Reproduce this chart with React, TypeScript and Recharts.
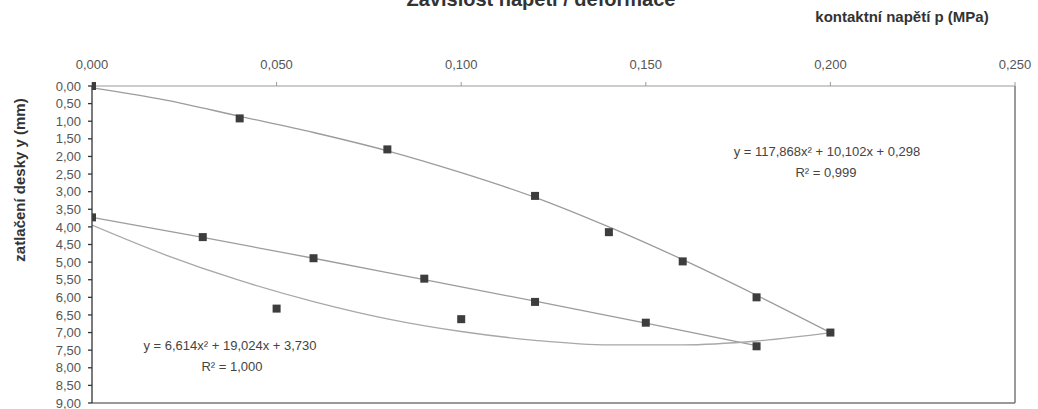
import React from "react";
import {
  ComposedChart,
  Line,
  Scatter,
  XAxis,
  YAxis,
  ReferenceLine,
} from "recharts";

const loadingPoints = [
  { x: 0, y: 0 },
  { x: 0.04, y: 0.92 },
  { x: 0.08, y: 1.8 },
  { x: 0.12, y: 3.12 },
  { x: 0.14, y: 4.15 },
  { x: 0.16, y: 4.98 },
  { x: 0.18, y: 6.0 },
  { x: 0.2, y: 7.0 },
];

const secondPoints = [
  { x: 0, y: 3.73 },
  { x: 0.03, y: 4.29 },
  { x: 0.06, y: 4.89 },
  { x: 0.09, y: 5.47 },
  { x: 0.12, y: 6.13 },
  { x: 0.15, y: 6.72 },
  { x: 0.18, y: 7.39 },
];

const thirdPoints = [
  { x: 0.05, y: 6.32 },
  { x: 0.1, y: 6.62 },
];

// trend curves
const loadingTrend = [
  { x: 0, y: 0.05 },
  { x: 0.02, y: 0.4 },
  { x: 0.04, y: 0.86 },
  { x: 0.06, y: 1.32 },
  { x: 0.08, y: 1.84 },
  { x: 0.1, y: 2.46 },
  { x: 0.12, y: 3.16 },
  { x: 0.14, y: 4.0 },
  { x: 0.16, y: 4.93 },
  { x: 0.18, y: 5.94 },
  { x: 0.2, y: 7.0 },
];

const secondTrend = [
  { x: 0, y: 3.73 },
  { x: 0.03, y: 4.3 },
  { x: 0.06, y: 4.89 },
  { x: 0.09, y: 5.5 },
  { x: 0.12, y: 6.11 },
  { x: 0.15, y: 6.73 },
  { x: 0.18, y: 7.37 },
];

const thirdTrend = [
  { x: 0, y: 3.95 },
  { x: 0.02, y: 4.8 },
  { x: 0.04, y: 5.52 },
  { x: 0.06, y: 6.12 },
  { x: 0.08, y: 6.61 },
  { x: 0.1, y: 6.97 },
  { x: 0.12, y: 7.22 },
  { x: 0.14, y: 7.35 },
  { x: 0.16, y: 7.35 },
  { x: 0.18, y: 7.24 },
  { x: 0.2, y: 7.0 },
];

const xTicks = [0, 0.05, 0.1, 0.15, 0.2, 0.25];
const yTicks = [
  0, 0.5, 1, 1.5, 2, 2.5, 3, 3.5, 4, 4.5, 5, 5.5, 6, 6.5, 7, 7.5, 8, 8.5, 9,
];

const TITLE = "Závislost napětí / deformace";
const X_TITLE = "kontaktní napětí p (MPa)";
const Y_TITLE = "zatlačení desky y (mm)";
const EQ_LOAD = "y = 117,868x² + 10,102x + 0,298";
const R_LOAD = "R² = 0,999";
const EQ_SECOND = "y = 6,614x² + 19,024x + 3,730";
const R_SECOND = "R² = 1,000";

const FONT = "'Liberation Sans', Arial, sans-serif";
const W = 1038;
const H = 409;

const Square = (props: any) => {
  const { cx, cy } = props;
  if (cx == null || cy == null) return null;
  return <rect x={cx - 4} y={cy - 4} width={8} height={8} fill="#3d3d3d" />;
};

const comma = (v: number, d: number) => v.toFixed(d).replace(".", ",");

export default function App() {
  const tickStyle = { fill: "#555", fontSize: 13, fontFamily: FONT };
  return (
    <div
      style={{
        position: "absolute",
        left: 0,
        top: 0,
        width: W,
        height: H,
        overflow: "hidden",
        background: "#fff",
      }}
    >
      <ComposedChart
        width={W}
        height={H}
        margin={{ top: 56, right: 23, left: 32, bottom: 6 }}
      >
        <XAxis
          type="number"
          dataKey="x"
          orientation="top"
          domain={[0, 0.25]}
          ticks={xTicks}
          height={30}
          tickFormatter={(v) => comma(Number(v), 3)}
          tick={tickStyle}
          tickSize={4}
          tickMargin={13}
          stroke="#9a9a9a"
          allowDataOverflow
        />
        <YAxis
          type="number"
          dataKey="y"
          reversed
          domain={[0, 9]}
          ticks={yTicks}
          interval={0}
          width={60}
          tickFormatter={(v) => comma(Number(v), 2)}
          tick={tickStyle}
          tickSize={4}
          tickMargin={7}
          stroke="#333"
          strokeWidth={1.3}
        />
        <ReferenceLine x={0.25} stroke="#9a9a9a" strokeWidth={2} />
        <ReferenceLine y={9} stroke="#777" strokeWidth={1.3} />
        <Line
          data={loadingTrend}
          dataKey="y"
          type="monotone"
          stroke="#9c9c9c"
          strokeWidth={1.3}
          dot={false}
          activeDot={false}
          isAnimationActive={false}
        />
        <Line
          data={secondTrend}
          dataKey="y"
          type="monotone"
          stroke="#9c9c9c"
          strokeWidth={1.3}
          dot={false}
          activeDot={false}
          isAnimationActive={false}
        />
        <Line
          data={thirdTrend}
          dataKey="y"
          type="monotone"
          stroke="#a8a8a8"
          strokeWidth={1.3}
          dot={false}
          activeDot={false}
          isAnimationActive={false}
        />
        <Scatter data={loadingPoints} shape={<Square />} isAnimationActive={false} />
        <Scatter data={secondPoints} shape={<Square />} isAnimationActive={false} />
        <Scatter data={thirdPoints} shape={<Square />} isAnimationActive={false} />
      </ComposedChart>
      <svg
        width={W}
        height={H}
        style={{ position: "absolute", left: 0, top: 0, pointerEvents: "none" }}
        fontFamily={FONT}
      >
        <text x={541} y={6} textAnchor="middle" fontSize={20} fontWeight="bold" fill="#333">
          {TITLE}
        </text>
        <text x={902} y={22} textAnchor="middle" fontSize={15} fontWeight="bold" fill="#333">
          {X_TITLE}
        </text>
        <text
          x={0}
          y={0}
          transform="translate(25,180) rotate(-90)"
          textAnchor="middle"
          fontSize={15}
          fontWeight="bold"
          fill="#333"
        >
          {Y_TITLE}
        </text>
        <text x={827} y={156} textAnchor="middle" fontSize={13} fill="#444">
          {EQ_LOAD}
        </text>
        <text x={826} y={177} textAnchor="middle" fontSize={13} fill="#444">
          {R_LOAD}
        </text>
        <text x={230} y={350} textAnchor="middle" fontSize={13} fill="#444">
          {EQ_SECOND}
        </text>
        <text x={232} y={371} textAnchor="middle" fontSize={13} fill="#444">
          {R_SECOND}
        </text>
      </svg>
    </div>
  );
}
